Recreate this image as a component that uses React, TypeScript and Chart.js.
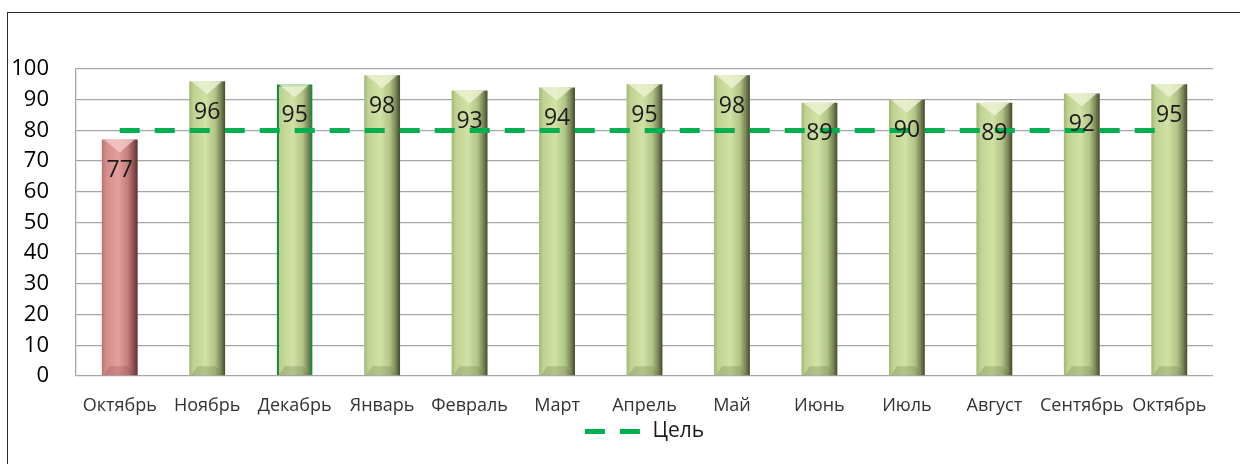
import React, { useEffect, useRef } from "react";
import { Chart, registerables } from "chart.js";

Chart.register(...registerables);

const months = ["Октябрь", "Ноябрь", "Декабрь", "Январь", "Февраль", "Март", "Апрель", "Май", "Июнь", "Июль", "Август", "Сентябрь", "Октябрь"];
const values = [77, 96, 95, 98, 93, 94, 95, 98, 89, 90, 89, 92, 95];
const target = [80, 80, 80, 80, 80, 80, 80, 80, 80, 80, 80, 80, 80];
const targetLabel = "Цель";
const lowIndex = 0;
const highlightIndex = 2;

const FONT = "'Open Sans', 'Noto Sans', sans-serif";
const BAR_PCT = 0.41;

function barGradient(chart: any, index: number) {
  const area = chart.chartArea;
  const xs = chart.scales && chart.scales.x;
  const red = index === lowIndex;
  if (!area || !xs) return red ? "#d99694" : "#c3d69b";
  const cx = xs.getPixelForValue(index);
  const w = ((area.right - area.left) / months.length) * BAR_PCT;
  const g = chart.ctx.createLinearGradient(cx - w / 2, 0, cx + w / 2, 0);
  if (red) {
    g.addColorStop(0, "#b87472");
    g.addColorStop(0.12, "#d48c8a");
    g.addColorStop(0.45, "#e3a09e");
    g.addColorStop(0.72, "#c47e7c");
    g.addColorStop(0.88, "#8f5250");
    g.addColorStop(1, "#5a3231");
  } else {
    g.addColorStop(0, "#a2b676");
    g.addColorStop(0.12, "#c0d392");
    g.addColorStop(0.45, "#d2e1a5");
    g.addColorStop(0.72, "#b2c487");
    g.addColorStop(0.88, "#7a8757");
    g.addColorStop(1, "#424a2c");
  }
  return g;
}

const bevelPlugin = {
  id: "bevel",
  afterDatasetDraw(chart: any, args: any) {
    if (args.index !== 0) return;
    const ctx = chart.ctx;
    const meta = chart.getDatasetMeta(0);
    ctx.save();
    meta.data.forEach((el: any, i: number) => {
      const { x, y, base, width } = el.getProps(["x", "y", "base", "width"], true);
      const l = x - width / 2;
      const r = x + width / 2;
      const red = i === lowIndex;
      ctx.beginPath();
      ctx.moveTo(l + 2, y);
      ctx.lineTo(r - 3, y);
      ctx.lineTo(x, y + 13);
      ctx.closePath();
      ctx.fillStyle = red ? "rgba(245,205,204,0.75)" : "rgba(236,243,212,0.8)";
      ctx.fill();
      ctx.beginPath();
      ctx.moveTo(l + 2, base);
      ctx.lineTo(r - 3, base);
      ctx.lineTo(r - 9, base - 9);
      ctx.lineTo(l + 8, base - 9);
      ctx.closePath();
      ctx.fillStyle = red ? "rgba(150,80,78,0.3)" : "rgba(110,125,75,0.3)";
      ctx.fill();
    });
    ctx.restore();
  },
};

const labelPlugin = {
  id: "barLabels",
  afterDatasetsDraw(chart: any) {
    const ctx = chart.ctx;
    const meta = chart.getDatasetMeta(0);
    ctx.save();
    ctx.font = `23px ${FONT}`;
    ctx.fillStyle = "#1a1a1a";
    ctx.textAlign = "center";
    ctx.textBaseline = "middle";
    meta.data.forEach((el: any, i: number) => {
      const { x, y } = el.getProps(["x", "y"], true);
      ctx.fillText(String(values[i]), x, y + 31);
    });
    ctx.restore();
  },
};

export default function App() {
  const ref = useRef<HTMLCanvasElement>(null);
  useEffect(() => {
    if (!ref.current) return;
    const chart = new Chart(ref.current, {
      type: "bar",
      data: {
        labels: months,
        datasets: [
          {
            type: "bar",
            label: "Значение",
            data: values,
            order: 1,
            backgroundColor: (c: any) => barGradient(c.chart, c.dataIndex),
            borderColor: (c: any) => (c.dataIndex === highlightIndex ? "#1c8a3c" : "rgba(0,0,0,0)"),
            borderWidth: (c: any) => (c.dataIndex === highlightIndex ? { left: 2.5, right: 2.5, top: 2.5, bottom: 0 } : 0),
            borderSkipped: false,
            barPercentage: BAR_PCT,
            categoryPercentage: 1,
          } as any,
          {
            type: "line",
            label: targetLabel,
            data: target,
            order: 0,
            borderColor: "#00b050",
            backgroundColor: "#00b050",
            borderWidth: 5,
            borderDash: [20, 15],
            borderCapStyle: "butt",
            pointRadius: 0,
            fill: false,
          } as any,
        ],
      },
      options: {
        animation: false,
        responsive: false,
        devicePixelRatio: 1,
        layout: { padding: { left: 0, right: 27, top: 69, bottom: 12 } },
        plugins: {
          tooltip: { enabled: false },
          legend: {
            position: "bottom",
            fullSize: false,
            labels: {
              usePointStyle: true,
              pointStyleWidth: 57,
              padding: 5,
              color: "#1a1a1a",
              font: { family: FONT, size: 21 },
              generateLabels: () => [
                {
                  text: targetLabel,
                  fillStyle: "#00b050",
                  strokeStyle: "#00b050",
                  lineWidth: 5,
                  lineDash: [20, 15],
                  lineCap: "butt",
                  pointStyle: "line",
                  hidden: false,
                  datasetIndex: 1,
                  fontColor: "#1a1a1a",
                } as any,
              ],
            },
          },
        },
        scales: {
          x: {
            grid: { display: false, drawTicks: false },
            border: { display: false },
            ticks: { color: "#333333", padding: 19, font: { family: FONT, size: 18 }, maxRotation: 0, autoSkip: false },
            afterFit: (s: any) => {
              s.height = 40;
            },
          },
          y: {
            min: 0,
            max: 100,
            ticks: { stepSize: 10, color: "#000000", padding: 27, font: { family: FONT, size: 22 } },
            grid: { color: "#a6a6a6", lineWidth: 1.3, drawTicks: false },
            border: { display: true, color: "#a6a6a6", width: 1.3 },
            afterFit: (s: any) => {
              s.width = 76;
            },
          },
        },
      },
      plugins: [bevelPlugin, labelPlugin],
    });
    return () => chart.destroy();
  }, []);

  return (
    <div style={{ position: "fixed", left: 0, top: 0, width: 1240, height: 464, background: "#ffffff", overflow: "hidden" }}>
      <div
        style={{
          position: "absolute",
          left: 7,
          top: 12,
          width: 1250,
          height: 470,
          borderTop: "1.5px solid #2a2a2a",
          borderLeft: "1.5px solid #2a2a2a",
        }}
      />
      <canvas ref={ref} width={1240} height={464} style={{ position: "absolute", left: 0, top: 0, width: 1240, height: 464 }} />
    </div>
  );
}
